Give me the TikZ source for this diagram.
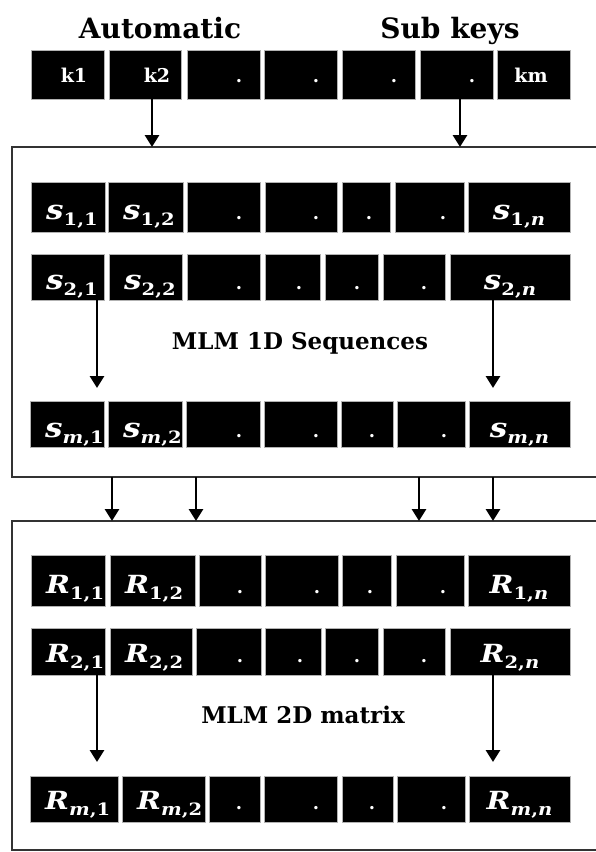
\documentclass[tikz,border=0pt]{standalone}
\usepackage{fontspec}
\usetikzlibrary{arrows.meta}
\newfontfamily\headfont{DejaVu Serif}
\newfontfamily\lblfont[FakeStretch=1.15]{DejaVu Serif}

% entry label: bold italic letter with an upright bold subscript
\newcommand\ent[2]{{\fontsize{#1}{26}\selectfont\bfseries\itshape #2}}
\newcommand\entS[2]{\ent{27}{s}\raisebox{-6pt}{\fontsize{17}{17}\selectfont\bfseries #2}}
\newcommand\entR[2]{\ent{25}{R}\raisebox{-6pt}{\fontsize{17}{17}\selectfont\bfseries #2}}
% a black cell spanning [left,right] x [top,bottom]
\newcommand\cell[5]{%
  \pgfmathsetmacro\cw{#3-#2}\pgfmathsetmacro\ch{#5-#4}%
  \node[cellbox, minimum width=\cw pt, minimum height=\ch pt, anchor=north west] (#1) at (#2,#4) {};}
% label set near the left of a cell: name, left, baseline, text
\newcommand\lblL[4]{\node[celltext, anchor=base west] (#1) at (#2+15,#3) {#4};}
% label centred in a cell: name, left, right, baseline, text
\newcommand\lblC[5]{\node[celltext, anchor=base] (#1) at ({(#2+#3)/2},#4) {#5};}
% ellipsis dot: name, right, baseline
\newcommand\lblD[3]{\node[dottext, anchor=base] (#1) at (#2-21,#3) {.};}

\begin{document}
\begin{tikzpicture}[x=1pt,y=-1pt,
  cellbox/.style={rectangle, fill=black, draw=black!30, line width=0.6pt, inner sep=0pt, outer sep=0pt},
  celltext/.style={text=white, inner sep=0pt, font=\lblfont},
  dottext/.style={text=white, inner sep=0pt, font={\headfont\bfseries\fontsize{18}{18}\selectfont}},
  keytext/.style={text=white, inner sep=0pt, font={\headfont\bfseries\fontsize{19}{19}\selectfont}},
  frame/.style={rectangle, draw=black!80, line width=2.6pt, inner sep=0pt, outer sep=0pt},
  arr/.style={line width=2.8pt, -{Triangle[width=14pt,length=12pt]}},
  heading/.style={inner sep=0pt, font={\headfont\bfseries\fontsize{28}{28}\selectfont}},
  caption/.style={inner sep=0pt, font={\headfont\bfseries\fontsize{23}{23}\selectfont}}]

\useasboundingbox[fill=white] (0,0) rectangle (595,852);

% headings
\node[heading, anchor=base] (hauto) at (160,38) {Automatic};
\node[heading, anchor=base] (hsub) at (450,38) {Sub keys};

% key row
\cell{t1}{31}{104}{50}{99}
\cell{t2}{109}{181}{50}{99}
\cell{t3}{187}{260}{50}{99}
\cell{t4}{264}{337}{50}{99}
\cell{t5}{342}{415}{50}{99}
\cell{t6}{420}{493}{50}{99}
\cell{t7}{497}{570}{50}{99}
\node[keytext, anchor=base] (k1) at (74,82) {k1};
\node[keytext, anchor=base] (k2) at (157,82) {k2};
\lblD{t3d}{260}{82}
\lblD{t4d}{337}{82}
\lblD{t5d}{415}{82}
\lblD{t6d}{493}{82}
\node[keytext, anchor=base] (km) at (531,82) {km};

% frames
\node[frame, minimum width=588pt, minimum height=330pt, anchor=north west] (box1) at (12,147) {};
\node[frame, minimum width=588pt, minimum height=329pt, anchor=north west] (box2) at (12,521) {};

% sequence rows
\cell{s11}{31}{105}{182}{232}
\cell{s12}{108}{183}{182}{232}
\cell{s13}{187}{260}{182}{232}
\cell{s14}{265}{337}{182}{232}
\cell{s15}{342}{390}{182}{232}
\cell{s16}{395}{464}{182}{232}
\cell{s17}{468}{570}{182}{232}
\lblL{s11l}{31}{219}{\entS{s}{1,1}}
\lblL{s12l}{108}{219}{\entS{s}{1,2}}
\lblD{s13d}{260}{219}
\lblD{s14d}{337}{219}
\lblD{s15d}{390}{219}
\lblD{s16d}{464}{219}
\lblC{s17l}{468}{570}{219}{\entS{s}{1,{\itshape n}}}

\cell{s21}{31}{104}{254}{300}
\cell{s22}{109}{182}{254}{300}
\cell{s23}{187}{260}{254}{300}
\cell{s24}{265}{320}{254}{300}
\cell{s25}{325}{378}{254}{300}
\cell{s26}{383}{445}{254}{300}
\cell{s27}{450}{570}{254}{300}
\lblL{s21l}{31}{289}{\entS{s}{2,1}}
\lblL{s22l}{109}{289}{\entS{s}{2,2}}
\lblD{s23d}{260}{289}
\lblD{s24d}{320}{289}
\lblD{s25d}{378}{289}
\lblD{s26d}{445}{289}
\lblC{s27l}{450}{570}{289}{\entS{s}{2,{\itshape n}}}

\cell{sm1}{30}{104}{401}{447}
\cell{sm2}{108}{182}{401}{447}
\cell{sm3}{186}{260}{401}{447}
\cell{sm4}{264}{337}{401}{447}
\cell{sm5}{341}{393}{401}{447}
\cell{sm6}{397}{465}{401}{447}
\cell{sm7}{469}{570}{401}{447}
\lblL{sm1l}{30}{437}{\entS{s}{{\itshape m},1}}
\lblL{sm2l}{108}{437}{\entS{s}{{\itshape m},2}}
\lblD{sm3d}{260}{437}
\lblD{sm4d}{337}{437}
\lblD{sm5d}{393}{437}
\lblD{sm6d}{465}{437}
\lblC{sm7l}{469}{570}{437}{\entS{s}{{\itshape m},{\itshape n}}}

\node[caption, anchor=base] (cap1) at (300,349) {MLM 1D Sequences};

% matrix rows
\cell{r11}{31}{105}{555}{606}
\cell{r12}{110}{195}{555}{606}
\cell{r13}{199}{261}{555}{606}
\cell{r14}{265}{338}{555}{606}
\cell{r15}{342}{391}{555}{606}
\cell{r16}{396}{464}{555}{606}
\cell{r17}{468}{570}{555}{606}
\lblL{r11l}{31}{593}{\entR{R}{1,1}}
\lblL{r12l}{110}{593}{\entR{R}{1,2}}
\lblD{r13d}{261}{593}
\lblD{r14d}{338}{593}
\lblD{r15d}{391}{593}
\lblD{r16d}{464}{593}
\lblC{r17l}{468}{570}{593}{\entR{R}{1,{\itshape n}}}

\cell{r21}{31}{105}{628}{675}
\cell{r22}{110}{192}{628}{675}
\cell{r23}{196}{261}{628}{675}
\cell{r24}{265}{321}{628}{675}
\cell{r25}{325}{378}{628}{675}
\cell{r26}{383}{445}{628}{675}
\cell{r27}{450}{570}{628}{675}
\lblL{r21l}{31}{662}{\entR{R}{2,1}}
\lblL{r22l}{110}{662}{\entR{R}{2,2}}
\lblD{r23d}{261}{662}
\lblD{r24d}{321}{662}
\lblD{r25d}{378}{662}
\lblD{r26d}{445}{662}
\lblC{r27l}{450}{570}{662}{\entR{R}{2,{\itshape n}}}

\cell{rm1}{30}{118}{776}{822}
\cell{rm2}{122}{205}{776}{822}
\cell{rm3}{209}{260}{776}{822}
\cell{rm4}{264}{337}{776}{822}
\cell{rm5}{342}{393}{776}{822}
\cell{rm6}{397}{465}{776}{822}
\cell{rm7}{469}{570}{776}{822}
\lblL{rm1l}{30}{809}{\entR{R}{{\itshape m},1}}
\lblL{rm2l}{122}{809}{\entR{R}{{\itshape m},2}}
\lblD{rm3d}{260}{809}
\lblD{rm4d}{337}{809}
\lblD{rm5d}{393}{809}
\lblD{rm6d}{465}{809}
\lblC{rm7l}{469}{570}{809}{\entR{R}{{\itshape m},{\itshape n}}}

\node[caption, anchor=base] (cap2) at (303,723) {MLM 2D matrix};

% arrow columns
\coordinate (xa) at (152,0);
\coordinate (xb) at (460,0);
\coordinate (xl) at (97,0);
\coordinate (xr) at (493,0);
\coordinate (xc) at (112,0);
\coordinate (xd) at (196,0);
\coordinate (xe) at (419,0);

% keys into the sequence frame
\draw[arr] (t2.south -| xa) -- (box1.north -| xa);
\draw[arr] (t6.south -| xb) -- (box1.north -| xb);
% down the sequence rows
\draw[arr, shorten >=13pt] (s21.south -| xl) -- (sm1.north -| xl);
\draw[arr, shorten >=13pt] (s27.south -| xr) -- (sm7.north -| xr);
% sequences into the matrix frame
\draw[arr] (box1.south -| xc) -- (box2.north -| xc);
\draw[arr] (box1.south -| xd) -- (box2.north -| xd);
\draw[arr] (box1.south -| xe) -- (box2.north -| xe);
\draw[arr] (box1.south -| xr) -- (box2.north -| xr);
% down the matrix rows
\draw[arr, shorten >=14pt] (r21.south -| xl) -- (rm1.north -| xl);
\draw[arr, shorten >=14pt] (r27.south -| xr) -- (rm7.north -| xr);
\end{tikzpicture}
\end{document}
